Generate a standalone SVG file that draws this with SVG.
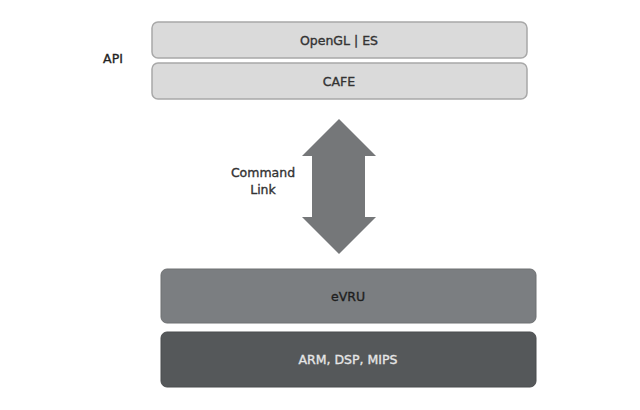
<svg xmlns="http://www.w3.org/2000/svg" width="640" height="410" viewBox="0 0 640 410">
<style>
.lt{fill:#dadada;stroke:#a8a8a8;stroke-width:1.5}
.t{font-family:"DejaVu Sans",sans-serif;font-size:12.5px;text-anchor:middle;stroke-width:0.35}
</style>
<rect width="640" height="410" fill="#ffffff"/>
<text class="t" x="113" y="63" fill="#222" stroke="#222">API</text>
<g id="opengl">
<rect class="lt" x="152" y="22" width="375" height="36" rx="6"/>
<text class="t" x="339" y="45" fill="#333" stroke="#333">OpenGL | ES</text>
</g>
<g id="cafe">
<rect class="lt" x="152" y="63" width="375" height="36" rx="6"/>
<text class="t" x="339" y="86" fill="#333" stroke="#333">CAFE</text>
</g>
<g id="connectors">
<polygon points="339,119 376,156 365,156 365,217 376,217 339,254 302,217 312,217 312,156 302,156" fill="#757779"/>
<text class="t" x="263" y="177" fill="#333" stroke="#333">Command</text>
<text class="t" x="263" y="194" fill="#333" stroke="#333">Link</text>
</g>
<g id="evru">
<rect x="161" y="269" width="375" height="54" rx="6" fill="#7b7e81" stroke="#6e7072" stroke-width="1"/>
<text class="t" x="348" y="301" fill="#1e1e1e" stroke="#1e1e1e">eVRU</text>
</g>
<g id="arm">
<rect x="161" y="332" width="375" height="55" rx="6" fill="#55585a" stroke="#4a4c4e" stroke-width="1"/>
<text class="t" x="348" y="364" fill="#e6e6e6" stroke="#e6e6e6">ARM, DSP, MIPS</text>
</g>
</svg>
